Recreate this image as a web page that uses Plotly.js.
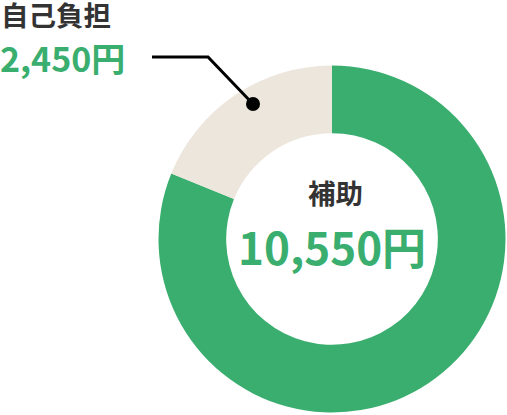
<!DOCTYPE html>
<html>
<head>
<meta charset="utf-8">
<script src="https://cdn.plot.ly/plotly-3.0.1.min.js"></script>
<style>
  html, body { margin: 0; padding: 0; background: #fff; }
  #chart { width: 507px; height: 415px; }
</style>
</head>
<body>
<div id="chart"></div>
<script>
const labels = ['自己負担', '補助'];
const values = [2450, 10550];
const colors = ['#ece6dd', '#3aae6f'];

const W = 507, H = 415;
const px = (x) => x / W;
const py = (y) => 1 - y / H;
const yen = (v) => v.toLocaleString('ja-JP') + '円';
const font = '"Noto Sans CJK JP", "Noto Sans", sans-serif';

// green first, clockwise from 12 o'clock, so the beige slice ends up top-left
let pieData = {
  type: 'pie',
  labels: labels.slice().reverse(),
  values: values.slice().reverse(),
  sort: false,
  direction: 'clockwise',
  hole: 0.61,
  textinfo: 'none',
  hoverinfo: 'none',
  showlegend: false,
  marker: { colors: colors.slice().reverse(), line: { width: 0 } },
  domain: { x: [px(158.5), px(505.5)], y: [py(412.5), py(65.5)] },
};

let layout = {
  width: W,
  height: H,
  margin: { l: 0, r: 0, t: 0, b: 0 },
  paper_bgcolor: '#fff',
  font: { family: font },
  shapes: [
    {
      type: 'path',
      xref: 'paper',
      yref: 'paper',
      path: `M ${px(152)} ${py(57)} L ${px(208)} ${py(57)} L ${px(253)} ${py(104)}`,
      line: { color: '#000', width: 3 },
    },
    {
      type: 'circle',
      xref: 'paper',
      yref: 'paper',
      x0: px(246), x1: px(260),
      y0: py(111), y1: py(97),
      fillcolor: '#000',
      line: { width: 0 },
    },
  ],
  annotations: [
    {
      text: labels[0],
      xref: 'paper', yref: 'paper',
      x: px(0), y: py(14),
      xanchor: 'left', yanchor: 'middle',
      borderpad: 0,
      showarrow: false,
      font: { size: 27.5, color: '#333', weight: 'bold', family: font },
    },
    {
      text: yen(values[0]),
      xref: 'paper', yref: 'paper',
      x: px(-1), y: py(57),
      xanchor: 'left', yanchor: 'middle',
      borderpad: 0,
      showarrow: false,
      font: { size: 34, color: colors[1], weight: 'bold', family: font },
    },
    {
      text: labels[1],
      xref: 'paper', yref: 'paper',
      x: px(335), y: py(192),
      xanchor: 'center', yanchor: 'middle',
      showarrow: false,
      font: { size: 27.5, color: '#333', weight: 'bold', family: font },
    },
    {
      text: yen(values[1]),
      xref: 'paper', yref: 'paper',
      x: px(332), y: py(246),
      xanchor: 'center', yanchor: 'middle',
      showarrow: false,
      font: { size: 44, color: colors[1], weight: 'bold', family: font },
    },
  ],
};

Plotly.newPlot('chart', [pieData], layout, { displayModeBar: false, staticPlot: true });
</script>
</body>
</html>
